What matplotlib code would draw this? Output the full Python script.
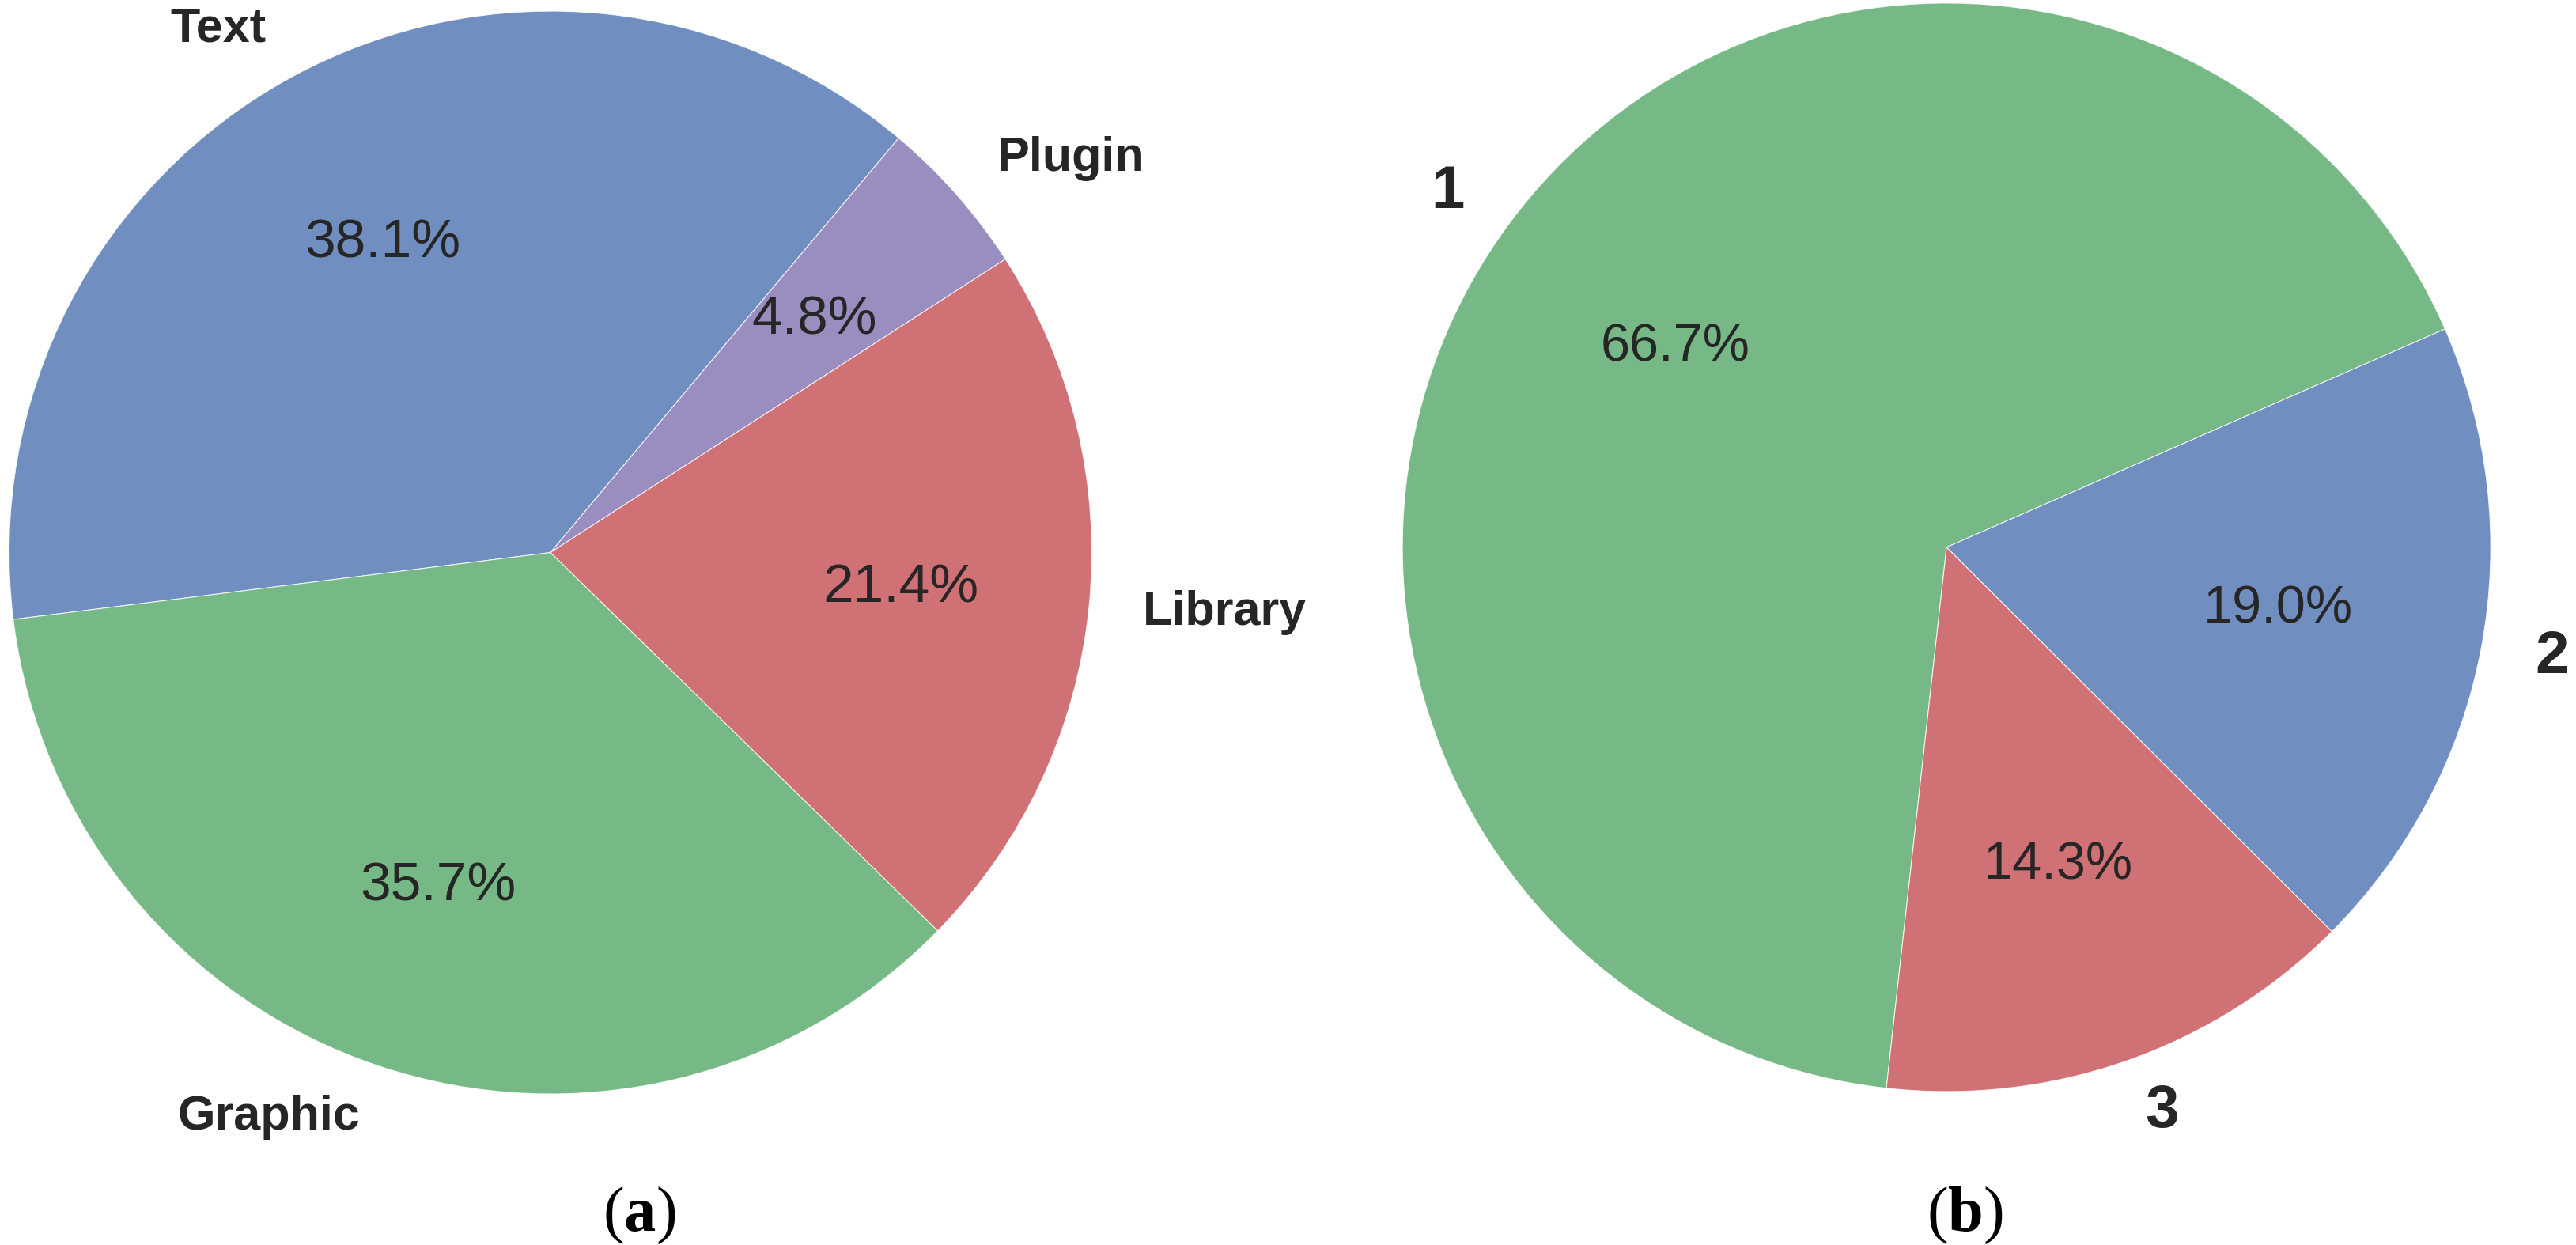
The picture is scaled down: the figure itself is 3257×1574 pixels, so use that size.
import matplotlib
matplotlib.use("Agg")
import matplotlib.pyplot as plt

# Data for the two pie charts
kind_labels = ["Text", "Plugin", "Library", "Graphic"]
kind_counts = [16, 2, 9, 15]

level_labels = ["1", "2", "3"]
level_counts = [14, 4, 3]

# seaborn "deep" colours
blue, green, red, purple = "#4C72B0", "#55A868", "#C44E52", "#8172B2"
kind_colors = [blue, purple, red, green]
level_colors = [green, blue, red]

plt.rcParams["font.family"] = ["Liberation Sans", "DejaVu Sans"]
plt.rcParams["text.color"] = "#262626"
plt.rcParams["mathtext.fontset"] = "custom"
plt.rcParams["mathtext.rm"] = "Liberation Serif"
plt.rcParams["mathtext.bf"] = "Liberation Serif:bold"

fig = plt.figure(figsize=(32.57, 15.74), dpi=100)

# Left pie (a)
ax1 = fig.add_axes([0.00353, 0.1213, 0.4203, 0.8698])
wedges, texts, autotexts = ax1.pie(
    kind_counts, labels=kind_labels, colors=kind_colors,
    startangle=187.1, counterclock=False, autopct="%1.1f%%",
    pctdistance=0.65, labeldistance=1.1,
    wedgeprops={"alpha": 0.8, "edgecolor": "white", "linewidth": 0.8},
)
for t in texts:
    t.set_fontsize(44)
    t.set_fontweight("bold")
for t in autotexts:
    t.set_fontsize(50)
ax1.set_xlim(-1, 1)
ax1.set_ylim(-1, 1)

# Right pie (b)
ax2 = fig.add_axes([0.5444, 0.1233, 0.4225, 0.8742])
wedges, texts, autotexts = ax2.pie(
    level_counts, labels=level_labels, colors=level_colors,
    startangle=263.65, counterclock=False, autopct="%1.1f%%",
    pctdistance=0.62, labeldistance=1.1,
    wedgeprops={"alpha": 0.8, "edgecolor": "white", "linewidth": 0.8},
)
for t in texts:
    t.set_fontsize(55)
    t.set_fontweight("bold")
for t in autotexts:
    t.set_fontsize(48)
ax2.set_xlim(-1, 1)
ax2.set_ylim(-1, 1)

# Sub-captions
fig.text(808 / 3257, 18 / 1574, r"$\mathrm{(}\mathbf{a}\mathrm{)}$",
         fontsize=58, color="black", ha="center", va="baseline")
fig.text(2484 / 3257, 18 / 1574, r"$\mathrm{(}\mathbf{b}\mathrm{)}$",
         fontsize=58, color="black", ha="center", va="baseline")

fig.savefig("out.png", dpi=100, facecolor="white")
